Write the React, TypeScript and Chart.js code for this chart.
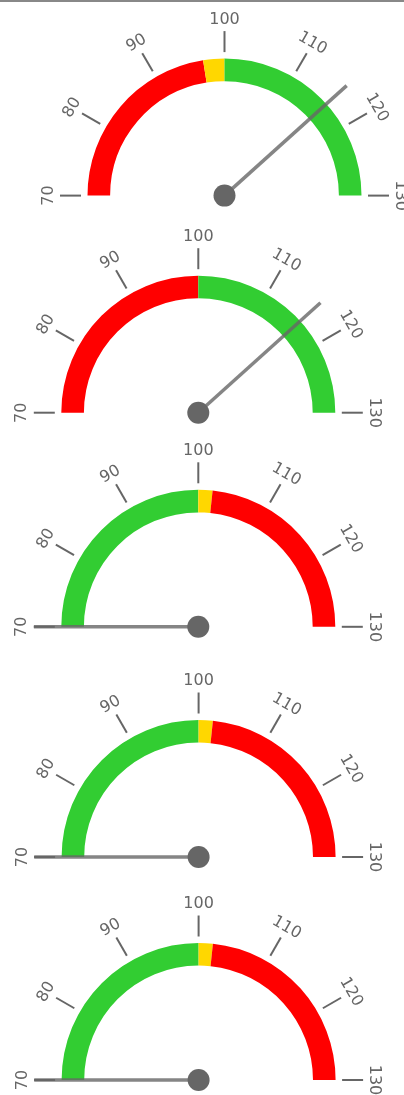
import React, { useEffect, useRef } from "react";
import { Chart, registerables } from "chart.js";

Chart.register(...registerables);

// ---- data ----
const SCALE_MIN = 70;
const SCALE_MAX = 130;
const tickValues = [70, 80, 90, 100, 110, 120, 130];
const tickLabels = ["70", "80", "90", "100", "110", "120", "130"];

// band edges for each gauge (value where each colour band starts/ends)
const gauge1Edges = [70, 97, 100, 130];
const gauge1Colors = ["#FF0000", "#FFD700", "#32CD32"];
const gauge2Edges = [70, 100, 130];
const gauge2Colors = ["#FF0000", "#32CD32"];
const gauge3Edges = [70, 100, 102, 130];
const gauge3Colors = ["#32CD32", "#FFD700", "#FF0000"];
const gauge4Edges = [70, 100, 102, 130];
const gauge4Colors = ["#32CD32", "#FFD700", "#FF0000"];
const gauge5Edges = [70, 100, 102, 130];
const gauge5Colors = ["#32CD32", "#FFD700", "#FF0000"];

const needleValues = [116, 116, 70, 70, 70];

// ---- layout ----
const W = 404;
const H = 215;
const R = 137;
const gaugeLayout = [
  { cx: 224.5, cy: 195.6 },
  { cx: 198.3, cy: 412.7 },
  { cx: 198.3, cy: 626.8 },
  { cx: 198.6, cy: 857.0 },
  { cx: 198.6, cy: 1080.0 },
];

const gauges = [
  { edges: gauge1Edges, colors: gauge1Colors, value: needleValues[0] },
  { edges: gauge2Edges, colors: gauge2Colors, value: needleValues[1] },
  { edges: gauge3Edges, colors: gauge3Colors, value: needleValues[2] },
  { edges: gauge4Edges, colors: gauge4Colors, value: needleValues[3] },
  { edges: gauge5Edges, colors: gauge5Colors, value: needleValues[4] },
];

const toAngle = (v: number) =>
  Math.PI + ((v - SCALE_MIN) / (SCALE_MAX - SCALE_MIN)) * Math.PI;

const gaugePlugin = {
  id: "gaugeDecor",
  afterDatasetsDraw(chart: any, _args: any, opts: any) {
    const arc: any = chart.getDatasetMeta(0).data[0];
    if (!arc) return;
    const cx = arc.x;
    const cy = arc.y;
    const r = arc.outerRadius;
    const ctx = chart.ctx as CanvasRenderingContext2D;
    ctx.save();
    // ticks + labels
    tickValues.forEach((v, i) => {
      const a = toAngle(v);
      const c = Math.cos(a);
      const s = Math.sin(a);
      ctx.strokeStyle = "#666666";
      ctx.lineWidth = 2;
      ctx.beginPath();
      ctx.moveTo(cx + (r + 6.5) * c, cy + (r + 6.5) * s);
      ctx.lineTo(cx + (r + 27.5) * c, cy + (r + 27.5) * s);
      ctx.stroke();

      ctx.save();
      ctx.translate(cx + (r + 39) * c, cy + (r + 39) * s);
      ctx.rotate(a + Math.PI / 2);
      ctx.fillStyle = "#666666";
      ctx.font = '16px "DejaVu Sans"';
      ctx.textAlign = "center";
      ctx.textBaseline = "middle";
      ctx.fillText(tickLabels[i], 0, 0);
      ctx.restore();
    });
    // needle
    const v = Math.max(SCALE_MIN, Math.min(SCALE_MAX, opts.value));
    const a = toAngle(v);
    const len = r * 1.2;
    ctx.strokeStyle = "rgba(102,102,102,0.8)";
    ctx.lineWidth = 3.5;
    ctx.lineCap = "butt";
    ctx.beginPath();
    ctx.moveTo(cx, cy);
    ctx.lineTo(cx + len * Math.cos(a), cy + len * Math.sin(a));
    ctx.stroke();
    // hub
    ctx.fillStyle = "#666666";
    ctx.beginPath();
    ctx.arc(cx, cy, 11, 0, Math.PI * 2);
    ctx.fill();
    ctx.restore();
  },
};

function Gauge({ index }: { index: number }) {
  const ref = useRef<HTMLCanvasElement>(null);
  const g = gauges[index];
  const lay = gaugeLayout[index];
  const top = Math.round(lay.cy - 195);
  const padTop = 2 * (lay.cy - top) - H - R;
  const padLeft = Math.max(0, 2 * lay.cx - W);
  const padRight = Math.max(0, W - 2 * lay.cx);

  useEffect(() => {
    if (!ref.current) return;
    const sizes = g.edges.slice(1).map((e, i) => e - g.edges[i]);
    const chart = new Chart(ref.current, {
      type: "doughnut",
      data: {
        labels: g.colors.map((_, i) => `band ${i + 1}`),
        datasets: [
          {
            data: sizes,
            backgroundColor: g.colors,
            borderWidth: 0,
          },
        ],
      },
      options: {
        responsive: false,
        animation: false,
        events: [],
        rotation: -90,
        circumference: 180,
        radius: R,
        cutout: "83.5%",
        layout: {
          padding: { top: padTop, bottom: 0, left: padLeft, right: padRight },
        },
        plugins: {
          legend: { display: false },
          tooltip: { enabled: false },
          gaugeDecor: { value: g.value },
        } as any,
      },
      plugins: [gaugePlugin as any],
    });
    return () => chart.destroy();
  }, []);

  return (
    <canvas
      ref={ref}
      width={W}
      height={H}
      style={{ position: "absolute", left: 0, top, width: W, height: H }}
    />
  );
}

export default function App() {
  return (
    <div
      style={{
        position: "absolute",
        left: 0,
        top: 0,
        width: W,
        height: 1095,
        overflow: "hidden",
        background: "#ffffff",
      }}
    >
      {gauges.map((_, i) => (
        <Gauge key={i} index={i} />
      ))}
      <div
        style={{
          position: "absolute",
          left: 0,
          top: 0,
          width: W,
          height: 2,
          background: "#888888",
        }}
      />
    </div>
  );
}
